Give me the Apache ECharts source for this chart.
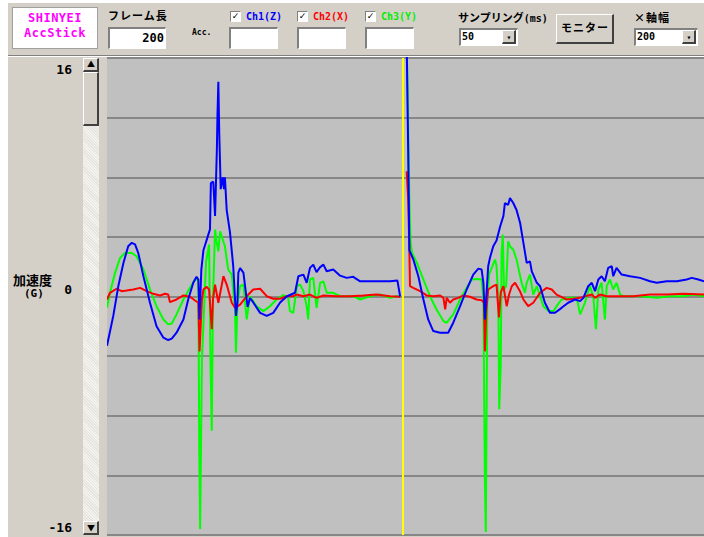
<!DOCTYPE html>
<html><head><meta charset="utf-8">
<script src="https://cdn.jsdelivr.net/npm/echarts@6/dist/echarts.min.js"></script>
<style>
html,body{margin:0;padding:0;width:704px;height:537px;overflow:hidden;background:#fff;}
#panel{position:absolute;left:8px;top:3px;width:696px;height:534px;background:#d4d0c8;}
.t{position:absolute;font-family:"Noto Sans CJK JP","DejaVu Sans Mono",monospace;font-weight:bold;color:#000;white-space:nowrap;line-height:1;}
.box{position:absolute;background:#fff;border-top:2px solid #808080;border-left:2px solid #808080;border-bottom:1px solid #fff;border-right:1px solid #fff;box-sizing:border-box;}
.cb{position:absolute;width:11px;height:11px;background:#fff;border-top:1px solid #808080;border-left:1px solid #808080;border-right:1px solid #fff;border-bottom:1px solid #fff;box-sizing:border-box;font:bold 9px "DejaVu Sans";line-height:9px;text-align:center;color:#000;}
.btn{position:absolute;background:#d4d0c8;border-top:1px solid #fff;border-left:1px solid #fff;border-right:2px solid #404040;border-bottom:2px solid #404040;box-sizing:border-box;}
.mono{font-family:"DejaVu Sans Mono","Liberation Mono",monospace;}
#chart{position:absolute;left:107px;top:57px;width:597px;height:480px;}
</style></head><body>
<div id="panel"></div>
<!-- logo -->
<div class="box" style="left:12px;top:7px;width:86px;height:42px;border:1px solid #a0a0a0;"></div>
<div class="t mono" style="left:12px;top:12px;width:86px;text-align:center;color:#ff00ff;font-size:12px;letter-spacing:0.5px;">SHINYEI</div>
<div class="t mono" style="left:12px;top:27px;width:86px;text-align:center;color:#ff00ff;font-size:12px;letter-spacing:0.5px;">AccStick</div>
<!-- frame length -->
<div class="t" style="left:108px;top:10px;font-size:11px;letter-spacing:1px;">フレーム長</div>
<div class="box" style="left:108px;top:27px;width:58px;height:22px;"></div>
<div class="t mono" style="left:108px;top:32px;width:56px;text-align:right;font-size:12px;">200</div>
<div class="t mono" style="left:192px;top:29px;font-size:8px;">Acc.</div>
<!-- channels -->
<div class="cb" style="left:230px;top:11px;">✓</div>
<div class="t mono" style="left:246px;top:12px;font-size:10px;color:#0000ff;">Ch1(Z)</div>
<div class="box" style="left:229px;top:27px;width:49px;height:22px;"></div>
<div class="cb" style="left:297px;top:11px;">✓</div>
<div class="t mono" style="left:313px;top:12px;font-size:10px;color:#ff0000;">Ch2(X)</div>
<div class="box" style="left:297px;top:27px;width:49px;height:22px;"></div>
<div class="cb" style="left:365px;top:11px;">✓</div>
<div class="t mono" style="left:381px;top:12px;font-size:10px;color:#00ee00;">Ch3(Y)</div>
<div class="box" style="left:365px;top:27px;width:49px;height:22px;"></div>
<!-- sampling -->
<div class="t" style="left:458px;top:12px;font-size:11px;">サンプリング<span class="mono" style="font-size:10px;">(ms)</span></div>
<div class="box" style="left:459px;top:28px;width:59px;height:18px;"></div>
<div class="t mono" style="left:462px;top:32px;font-size:10px;">50</div>
<div class="btn" style="left:502px;top:30px;width:14px;height:14px;"></div>
<div class="t" style="left:502px;top:33px;width:14px;text-align:center;font-size:8px;">▾</div>
<!-- monitor button -->
<div class="btn" style="left:556px;top:14px;width:58px;height:30px;"></div>
<div class="t" style="left:556px;top:22px;width:58px;text-align:center;font-size:11px;letter-spacing:1px;">モニター</div>
<!-- x axis width -->
<div class="t" style="left:634px;top:12px;font-size:11px;letter-spacing:1px;">×軸幅</div>
<div class="box" style="left:634px;top:28px;width:64px;height:18px;"></div>
<div class="t mono" style="left:637px;top:32px;font-size:10px;">200</div>
<div class="btn" style="left:682px;top:30px;width:14px;height:14px;"></div>
<div class="t" style="left:682px;top:33px;width:14px;text-align:center;font-size:8px;">▾</div>
<!-- separator -->
<div style="position:absolute;left:8px;top:55px;width:696px;height:1px;background:#808080;"></div>
<div style="position:absolute;left:8px;top:56px;width:696px;height:1px;background:#fff;"></div>
<!-- scrollbar -->
<div style="position:absolute;left:83px;top:58px;width:16px;height:477px;background:repeating-linear-gradient(45deg,#e6e4df 0 1px,#f4f3f0 1px 2px);"></div>
<div class="btn" style="left:83px;top:58px;width:16px;height:14px;"></div>
<div class="t" style="left:83px;top:60px;width:16px;text-align:center;font-size:8px;">▲</div>
<div class="btn" style="left:83px;top:72px;width:16px;height:54px;"></div>
<div class="btn" style="left:83px;top:521px;width:16px;height:14px;"></div>
<div class="t" style="left:83px;top:524px;width:16px;text-align:center;font-size:8px;">▼</div>
<!-- y labels -->
<div id="ylab"></div>
<div class="t" style="left:13px;top:273px;font-size:13px;">加速度</div>
<div class="t mono" style="left:24px;top:288px;font-size:11px;">(G)</div>
<div id="chart"></div>
<script>
// tick labels shown beside the plot
const yTickLabels = ['16', '0', '-16'];
const yMin = -16, yMax = 16, yInterval = 4;
const xMin = 0, xMax = 200;          // frame length 200 samples
const cursorSample = 99;             // current write position (yellow cursor)

// Ch1(Z) blue : [sample, G]
const ch1Z = [[0,-3.3],[2.1,-1.3],[3.8,0.7],[5.5,2.25],[7.1,3.37],[8.3,3.6],[9.4,3.5],[10.5,2.9],[12.2,1.35],[14.4,-0.42],[16.6,-1.99],[18.9,-2.76],[20.5,-2.92],[21.7,-2.83],[23.3,-2.43],[25.6,-1.54],[27.2,-0.2],[28.9,0.92],[30.0,1.32],[30.6,1.14],[31.0,-1.54],[31.6,1.8],[32.3,3.1],[33.4,3.8],[34.5,4.5],[34.8,7.6],[35.6,7.7],[36.2,5.4],[36.8,9.8],[37.0,12.1],[37.3,14.4],[37.5,14.4],[37.6,11.0],[38.1,7.2],[38.8,8.0],[39.2,7.2],[39.5,8.0],[40.1,5.8],[41.2,4.3],[42.3,2.0],[42.9,-0.2],[43.2,-1.3],[43.7,-0.4],[44.0,1.6],[44.6,1.9],[45.7,1.6],[46.8,-0.2],[47.1,-0.7],[47.9,-0.1],[49.0,-0.4],[51.3,-1.1],[53.5,-1.3],[55.7,-1.1],[58.0,-0.4],[60.2,0.0],[61.3,0.1],[63.0,0.25],[64.1,1.36],[65.8,1.47],[66.9,0.92],[68.0,1.92],[69.1,2.14],[70.2,1.64],[71.4,1.97],[72.5,2.14],[73.6,1.69],[75.8,1.81],[78.1,1.4],[80.3,1.25],[82.5,1.32],[84.8,1.02],[88.1,1.02],[91.5,1.02],[94.8,1.02],[97.3,1.07],[98.2,0.0],[99,'-'],
[100.4,17],[100.9,9.8],[101.3,3.1],[102.6,2.5],[104.3,1.36],[106.0,-0.2],[107.6,-1.54],[109.3,-2.32],[111.6,-2.43],[114.3,-2.43],[116.0,-1.76],[118.3,-0.65],[120.5,0.47],[122.7,1.47],[124.4,1.87],[125.5,1.81],[126.1,0.92],[126.6,-1.54],[127.7,2.03],[128.3,2.6],[129.4,3.37],[130.5,3.75],[131.7,4.7],[132.8,5.4],[133.3,6.27],[133.9,6.38],[134.4,6.15],[135.0,6.6],[135.6,6.7],[136.1,6.27],[137.2,5.8],[138.4,4.93],[139.5,3.6],[140.6,2.25],[141.7,2.36],[142.3,1.69],[144.0,0.92],[145.1,0.69],[146.7,-0.42],[148.4,-1.09],[150.1,-1.09],[152.3,-0.76],[154.5,-0.42],[156.8,-0.2],[158.5,-0.31],[159.6,-0.09],[161.2,0.69],[162.4,0.92],[163.5,0.36],[164.6,1.14],[165.7,1.36],[166.8,1.02],[167.9,1.92],[169.1,2.03],[169.6,1.36],[170.7,1.92],[172.4,1.47],[175.2,1.36],[178.6,1.25],[181.9,1.02],[184.2,0.92],[187.5,1.02],[190.9,1.02],[194.2,1.14],[195.9,1.25],[198.1,1.14],[200,1.02]];

// Ch2(X) red : [sample, G]
const ch2X = [[0,-0.2],[1.0,0.25],[3.2,0.52],[4.9,0.36],[6.6,0.4],[8.8,0.47],[11.1,0.58],[13.3,0.36],[15.5,0.18],[17.8,0.07],[19.4,0.18],[20.5,0.13],[21.1,-0.38],[23.3,-0.2],[25.6,0.07],[27.8,-0.02],[29.5,-0.27],[30.6,-0.42],[31.0,-3.68],[31.8,-0.2],[32.3,0.47],[33.4,0.65],[34.2,0.47],[35.1,-2.2],[35.5,-0.2],[36.2,0.8],[37.3,-0.42],[39.0,1.36],[40.1,0.8],[41.8,-0.42],[42.9,-0.76],[44.6,-0.54],[46.8,0.02],[49.0,0.47],[51.3,0.52],[53.5,0.02],[55.7,-0.15],[58.0,-0.15],[60.2,0.02],[62.4,0.02],[63.6,0.13],[65.8,0.02],[68.0,0.13],[70.2,-0.09],[72.5,0.07],[76.9,0.02],[81.4,0.02],[85.9,0.07],[90.3,0.13],[94.8,0.02],[98.2,-0.02],[99,'-'],
[100.4,8.4],[100.9,6.5],[101.3,3.1],[101.5,0.69],[102.6,0.58],[104.9,0.36],[107.1,0.07],[109.3,0.02],[111.6,0.07],[112.7,-0.09],[113.3,-0.87],[113.8,-0.09],[114.3,0.02],[114.9,-0.42],[116.0,-0.2],[117.7,-0.09],[119.4,0.07],[121.6,-0.02],[123.8,-0.2],[125.5,-0.25],[126.3,-0.42],[126.6,-3.68],[127.1,-0.87],[127.7,0.47],[129.4,0.69],[130.5,0.8],[131.3,-1.4],[131.9,0.27],[132.8,0.69],[133.9,-0.65],[134.7,0.13],[135.6,0.69],[136.7,0.92],[138.4,0.33],[139.5,-0.2],[141.1,-0.65],[142.8,-0.42],[145.1,0.25],[147.3,0.58],[149.0,0.47],[150.6,0.13],[152.9,-0.09],[154.0,-0.2],[156.2,-0.15],[158.5,-0.09],[160.1,0.02],[162.4,0.13],[163.5,-0.09],[165.1,0.13],[167.4,0.02],[171.9,0.02],[176.3,0.02],[181.9,0.13],[187.5,0.13],[193.1,0.18],[200,0.13]];

// Ch3(Y) green : [sample, G]
const ch3Y = [[0,-0.76],[1.0,0.25],[2.7,1.59],[4.4,2.59],[6.0,2.92],[8.3,2.92],[9.9,2.7],[12.2,1.81],[14.4,0.47],[16.6,-0.65],[18.9,-1.54],[20.5,-1.87],[21.7,-1.81],[23.3,-1.2],[25.6,-0.2],[27.8,0.58],[29.5,1.14],[30.6,1.14],[30.9,-10.0],[31.2,-15.6],[31.5,-9.9],[31.8,-4.2],[33.2,2.34],[34.2,3.48],[34.7,-4.75],[35.1,-9.0],[35.5,-0.2],[36.2,4.48],[36.8,3.6],[37.3,3.03],[37.9,4.37],[38.4,4.26],[39.5,3.37],[40.6,1.81],[41.8,1.47],[42.9,-0.87],[43.2,-3.77],[43.7,-0.42],[44.6,0.69],[45.7,0.8],[46.8,-1.54],[47.9,0.02],[50.1,-0.65],[52.4,-0.98],[54.6,-0.65],[56.8,-0.2],[59.1,0.09],[60.7,-0.09],[61.3,-0.98],[62.4,-1.09],[63.6,0.69],[64.7,0.8],[65.8,0.36],[66.9,-0.65],[67.4,-1.54],[68.0,1.14],[69.1,1.25],[70.2,-0.76],[71.4,0.92],[72.5,1.02],[73.6,0.25],[75.8,0.25],[78.1,0.02],[82.5,0.02],[84.8,-0.2],[88.1,0.02],[91.5,0.13],[94.8,-0.09],[97.0,0.02],[98.2,0.02],[99,'-'],
[100.4,17],[100.9,11.2],[101.3,6.5],[101.7,3.6],[102.2,2.92],[103.8,2.25],[106.0,1.14],[108.2,0.02],[110.4,-0.87],[112.7,-1.65],[113.8,-1.76],[116.0,-1.2],[118.3,-0.2],[120.5,0.58],[122.2,1.14],[123.8,1.18],[125.5,1.14],[126.1,-0.2],[126.3,-5.33],[126.6,-12.2],[126.9,-15.8],[127.2,-6.44],[127.4,-0.2],[128.0,1.47],[128.9,1.94],[130.0,2.48],[130.5,2.03],[131.1,-0.2],[131.4,-7.56],[131.9,-4.66],[132.2,2.92],[132.6,4.15],[133.0,0.47],[133.7,0.69],[134.4,3.7],[135.0,3.37],[136.1,3.14],[137.2,2.48],[138.9,0.92],[140.0,0.25],[140.6,0.92],[141.7,1.47],[142.8,0.13],[144.0,0.69],[146.2,-0.65],[147.9,-0.98],[149.6,-0.98],[150.6,-0.65],[152.3,-0.2],[155.1,-0.09],[157.4,-0.09],[158.5,-1.2],[160.1,-0.42],[161.8,0.69],[162.9,0.02],[163.8,-2.2],[164.6,0.47],[165.7,0.92],[166.8,-1.54],[167.4,0.69],[168.5,1.14],[169.6,0.47],[170.7,0.92],[171.9,0.13],[173.0,0.02],[178.6,0.02],[184.2,-0.09],[188.7,0.02],[193.1,0.02],[196.4,0.13],[200,0.02]];

// y tick labels as text beside the scrollbar
const ylabPos = {'16':63,'0':283,'-16':521};
const ylab = document.getElementById('ylab');
yTickLabels.forEach(function(l){
  const d = document.createElement('div');
  d.className = 't mono';
  d.style.cssText = 'position:absolute;right:' + (704-72) + 'px;top:' + ylabPos[l] + 'px;font-size:13px;';
  d.textContent = l;
  ylab.appendChild(d);
});

const chart = echarts.init(document.getElementById('chart'));
function lineSeries(name, data, color, z) {
  return {name: name, type: 'line', data: data, showSymbol: false, symbol: 'none',
    connectNulls: false, clip: true, z: z, animation: false,
    lineStyle: {color: color, width: 2}};
}
const s3 = lineSeries('Ch3(Y)', ch3Y, '#00ff00', 2);
const s2 = lineSeries('Ch2(X)', ch2X, '#ff0000', 3);
const s1 = lineSeries('Ch1(Z)', ch1Z, '#0000ff', 4);
s1.markLine = {silent: true, symbol: 'none', label: {show: false}, animation: false,
  lineStyle: {color: '#ffff00', width: 2, type: 'solid'}, data: [{xAxis: cursorSample}]};
chart.setOption({
  animation: false,
  backgroundColor: '#d4d0c8',
  grid: {left: 0, right: 0, top: 1, bottom: 2, show: true, backgroundColor: '#c0c0c0', borderWidth: 0},
  xAxis: {type: 'value', min: xMin, max: xMax, axisLine: {show: false}, axisTick: {show: false},
    axisLabel: {show: false}, splitLine: {show: false}},
  yAxis: {type: 'value', min: yMin, max: yMax, interval: yInterval, axisLine: {show: false},
    axisTick: {show: false}, axisLabel: {show: false},
    splitLine: {show: true, lineStyle: {color: '#878787', width: 2}}},
  series: [s3, s2, s1]
});
</script>
</body></html>
